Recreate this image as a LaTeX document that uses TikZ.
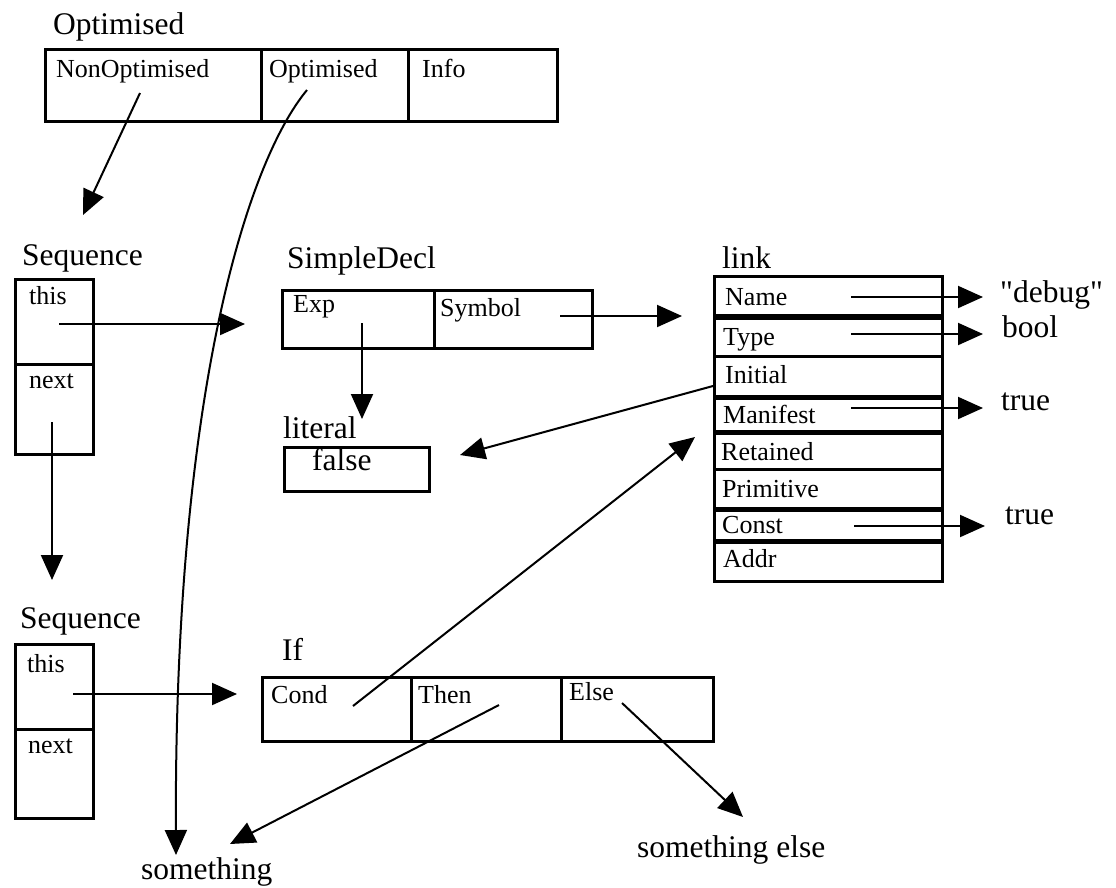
\documentclass[tikz,border=0pt]{standalone}
\usepackage{fontspec}
\setmainfont{Liberation Serif}
\usetikzlibrary{arrows.meta}
\begin{document}
\begin{tikzpicture}[x=1pt,y=-1pt,
  cellbox/.style={draw,line width=2.5pt,inner sep=0pt,anchor=north west},
  bigtxt/.style={anchor=base west,inner sep=0pt,font=\fontsize{31.5}{36}\selectfont},
  celltxt/.style={anchor=base west,inner sep=0pt,font=\fontsize{26}{30}\selectfont},
  arr/.style={line width=2pt,-{Triangle[length=25pt,width=22pt]}}]
\useasboundingbox (0,0) rectangle (1116,887);
\newcommand{\cellat}[5]{\node[cellbox,minimum width=#4pt,minimum height=#5pt] (#1) at (#2,#3) {};}
% top Optimised record
\node[bigtxt] (tOpt) at (53,34) {Optimised};
\cellat{optNon}{44}{48}{216}{72}
\cellat{optOpt}{260}{48}{147}{72}
\cellat{optInfo}{407}{48}{149}{72}
\node[celltxt] (lNon) at (56,77) {NonOptimised};
\node[celltxt] (lOpt) at (269,77) {Optimised};
\node[celltxt] (lInfo) at (422,77) {Info};
% Sequence 1
\node[bigtxt] (tSeq1) at (22,265) {Sequence};
\cellat{sThis}{14}{278}{78}{85}
\cellat{sNext}{14}{363}{78}{90}
\node[celltxt] (lThis) at (29,304) {this};
\node[celltxt] (lNext) at (29,388) {next};
% SimpleDecl
\node[bigtxt] (tSD) at (287,268) {SimpleDecl};
\cellat{sdExp}{281}{289}{152}{58}
\cellat{sdSym}{433}{289}{158}{58}
\node[celltxt] (lExp) at (293,312) {Exp};
\node[celltxt] (lSym) at (440,316) {Symbol};
% literal
\node[bigtxt] (tLit) at (283,438) {literal};
\cellat{lit}{283}{446}{145}{44}
\node[bigtxt] (lFalse) at (312,470) {false};
% link
\node[bigtxt] (tLink) at (722,268) {link};
\cellat{rName}{713}{275}{228}{39}
\cellat{rType}{713}{317}{228}{38}
\cellat{rInit}{713}{355}{228}{40}
\cellat{rMan}{713}{397}{228}{33}
\cellat{rRet}{713}{432}{228}{36}
\cellat{rPrim}{713}{468}{228}{39}
\cellat{rConst}{713}{509}{228}{30}
\cellat{rAddr}{713}{541}{228}{39}
\node[celltxt] (lName) at (725,305) {Name};
\node[celltxt] (lType) at (723,345) {Type};
\node[celltxt] (lInit) at (725,383) {Initial};
\node[celltxt] (lMan) at (723,423) {Manifest};
\node[celltxt] (lRet) at (721,460) {Retained};
\node[celltxt] (lPrim) at (722,497) {Primitive};
\node[celltxt] (lConst) at (722,533) {Const};
\node[celltxt] (lAddr) at (723,567) {Addr};
\node[bigtxt] (vDebug) at (1000,302) {\addfontfeature{Ligatures=TeXOff}"debug"};
\node[bigtxt] (vBool) at (1002,337) {bool};
\node[bigtxt] (vTrue1) at (1001,410) {true};
\node[bigtxt] (vTrue2) at (1005,524) {true};
% Sequence 2
\node[bigtxt] (tSeq2) at (20,628) {Sequence};
\cellat{s2This}{14}{643}{78}{85}
\cellat{s2Next}{14}{728}{78}{89}
\node[celltxt] (l2This) at (27,672) {this};
\node[celltxt] (l2Next) at (28,753) {next};
% If
\node[bigtxt] (tIf) at (282,660) {If};
\cellat{ifCond}{261}{676}{149}{64}
\cellat{ifThen}{410}{676}{150}{64}
\cellat{ifElse}{560}{676}{152}{64}
\node[celltxt] (lCond) at (271,703) {Cond};
\node[celltxt] (lThen) at (418,703) {Then};
\node[celltxt] (lElse) at (569,700) {Else};
% results
\node[bigtxt] (vSome) at (141,879) {something};
\node[bigtxt] (vSomeElse) at (637,857) {something else};
% connector end points
\coordinate (pNon) at (140,93);
\coordinate (qNon) at (83,215);
\coordinate (pOpt) at (307,90);
\coordinate (qOpt) at (176,855);
\coordinate (pThis) at (59,324);
\coordinate (qThis) at (245,324);
\coordinate (pNext) at (52,422);
\coordinate (qNext) at (52,580);
\coordinate (pExp) at (362,323);
\coordinate (qExp) at (362,419);
\coordinate (pSym) at (560,316);
\coordinate (qSym) at (682,316);
\coordinate (pInit) at (713,386);
\coordinate (qInit) at (460,455);
\coordinate (pName) at (851,297);
\coordinate (qName) at (983,297);
\coordinate (pType) at (851,334);
\coordinate (qType) at (983,334);
\coordinate (pMan) at (851,408);
\coordinate (qMan) at (983,408);
\coordinate (pConst) at (854,526);
\coordinate (qConst) at (985,526);
\coordinate (p2This) at (73,694);
\coordinate (q2This) at (237,694);
\coordinate (pCond) at (353,706);
\coordinate (qCond) at (695,437);
\coordinate (pThen) at (499,705);
\coordinate (qThen) at (230,844);
\coordinate (pElse) at (622,703);
\coordinate (qElse) at (743,817);
% connectors
\draw[arr] (pNon) -- (qNon);
\draw[arr] (pOpt) .. controls (245,165) and (174,400) .. (qOpt);
\draw[arr] (pThis) -- (qThis);
\draw[arr] (pNext) -- (qNext);
\draw[arr] (pExp) -- (qExp);
\draw[arr] (pSym) -- (qSym);
\draw[arr] (pInit) -- (qInit);
\draw[arr] (pName) -- (qName);
\draw[arr] (pType) -- (qType);
\draw[arr] (pMan) -- (qMan);
\draw[arr] (pConst) -- (qConst);
\draw[arr] (p2This) -- (q2This);
\draw[arr] (pCond) -- (qCond);
\draw[arr] (pThen) -- (qThen);
\draw[arr] (pElse) -- (qElse);
\end{tikzpicture}
\end{document}
